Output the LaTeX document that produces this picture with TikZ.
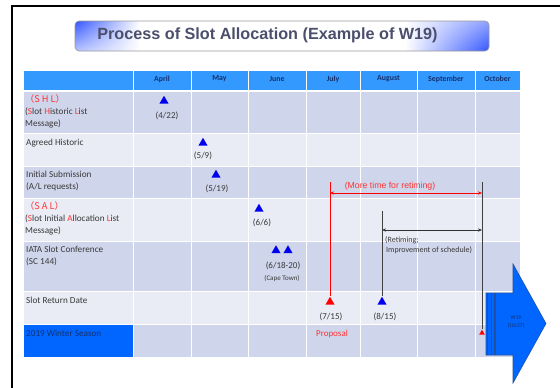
\documentclass[tikz,border=0pt]{standalone}
\usepackage{fontspec}
\setmainfont{Carlito}
\newfontfamily\arialf{Liberation Sans}
\newfontfamily\cjk{Noto Sans CJK JP}
\usetikzlibrary{shapes.geometric,arrows.meta,shadings}
\definecolor{hdr}{HTML}{3399FF}
\definecolor{rowd}{HTML}{CFD5EA}
\definecolor{rowl}{HTML}{E9EBF5}
\definecolor{wint}{HTML}{0066FF}
\definecolor{triblue}{HTML}{0000F0}
\definecolor{trired}{HTML}{FF0000}
\definecolor{sred}{HTML}{FF3333}
\definecolor{txt}{HTML}{3A3A3A}
\definecolor{navy}{HTML}{14306E}
\definecolor{titletxt}{HTML}{4B4F6B}
\definecolor{tblue}{HTML}{3355FF}
\definecolor{arrowedge}{HTML}{2050A0}
\tikzset{
  cell/.style={draw=white, line width=0.8pt},
  mon/.style={font=\fontsize{7.8}{9}\selectfont\bfseries, text=navy, inner sep=0pt},
  lbl/.style={font=\fontsize{9.2}{12}\selectfont, text=txt, anchor=base west, align=left, inner sep=0pt},
  date/.style={font=\fontsize{9}{11}\selectfont, text=txt, anchor=base, inner sep=0pt},
  btri/.style={regular polygon, regular polygon sides=3, fill=triblue, inner sep=0pt, minimum size=10.5pt},
  rtri/.style={btri, fill=trired},
  dtip/.style={{Stealth[length=4pt,width=3.2pt]}-{Stealth[length=4pt,width=3.2pt]}},
}
\begin{document}
\begin{tikzpicture}[x=1pt,y=-1pt]
\useasboundingbox (0,0) rectangle (560,388);
\fill[white] (0,0) rectangle (560,388);
% outer frame
\draw[line width=1.4pt] (12,388) -- (12,6) -- (560,6);
% title box
\begin{scope}
  \clip[rounded corners=4pt] (75,21) rectangle (489,51);
  \fill[white] (75,21) rectangle (489,51);
  \shade[upper left=tblue, lower left=tblue!35, upper right=white, lower right=white] (75,21) rectangle (140,51);
  \shade[upper left=white, lower left=white, upper right=tblue!55, lower right=tblue] (405,21) rectangle (489,51);
\end{scope}
\node[draw=gray!80, line width=0.6pt, rounded corners=4pt, minimum width=414pt, minimum height=30pt, inner sep=0pt] (tbox) at (282,36) {};
\node[font=\arialf\bfseries\fontsize{16.2}{18}\selectfont, text=titletxt, inner sep=0pt] (title) at (267.5,35.5)
      {Process of Slot Allocation (Example of W19)};
% header
\foreach \l/\r in {23/133,133/191,191/248,248/306,306/360,360/417,417/475,475/520}
  \filldraw[cell, fill=hdr] (\l,70) rectangle (\r,90.5);
% rows
\foreach \t/\b/\c in {91.5/133/rowd,133/166/rowl,166/198/rowd,198/241/rowl,241/291/rowd,291/324/rowl,324/357/rowd}
  \foreach \l/\r in {23/133,133/191,191/248,248/306,306/360,360/417,417/475,475/520}
    \filldraw[cell, fill=\c] (\l,\t) rectangle (\r,\b);
\filldraw[cell, fill=wint] (23,324) rectangle (133,357);
% month headers
\foreach \x/\m in {162/April,219.5/May,277/June,333/July,388.5/August,446/September,497.5/October}
  \node[mon] (m\m) at (\x,79) {\m};
% row labels (anchor = baseline of last line)
\node[lbl] (lshl) at (25,126) {{\cjk\color{sred}（S H L）}\\(\textcolor{sred}{S}lot \textcolor{sred}{H}istoric \textcolor{sred}{L}ist\\Message)};
\node[lbl] (lagr) at (26,145) {Agreed Historic};
\node[lbl] (linit) at (26,189.5) {Initial Submission\\(A/L requests)};
\node[lbl] (lsal) at (25,233) {{\cjk\color{sred}（S A L）}\\(\textcolor{sred}{S}lot Initial \textcolor{sred}{A}llocation \textcolor{sred}{L}ist\\Message)};
\node[lbl] (liata) at (26,264.5) {IATA Slot Conference\\(SC 144)};
\node[lbl] (lret) at (26,303) {Slot Return Date};
\node[lbl, text=navy] (lwin) at (26,336) {2019 Winter Season};
% triangles
\node[btri] (t422) at (164,101) {};
\node[btri] (t59) at (203,143) {};
\node[btri] (t519) at (216,175) {};
\node[btri] (t66) at (259,209) {};
\node[btri] (tsc1) at (276,250.5) {};
\node[btri] (tsc2) at (288,250.5) {};
\node[rtri] (t715) at (330,302) {};
\node[btri] (t815) at (382,302) {};
\node[rtri, minimum size=6.5pt] (tsm) at (482,333) {};
% date labels
\node[date] (d422) at (167,118) {(4/22)};
\node[date] (d59) at (203,158) {(5/9)};
\node[date] (d519) at (217,191) {(5/19)};
\node[date] (d66) at (262,225) {(6/6)};
\node[date] (dsc) at (283,268) {(6/18-20)};
\node[date, font=\fontsize{7}{8}\selectfont] (dct) at (282,280.5) {(Cape Town)};
\node[date] (d715) at (331,319) {(7/15)};
\node[date] (d815) at (385,319) {(8/15)};
\node[date, text=sred] (dprop) at (332,336) {Proposal};
% timing lines
\coordinate (rtop) at (330,182);
\coordinate (btop) at (482,182);
\coordinate (b2top) at (382,211);
\draw[red, line width=0.7pt] (rtop) -- (t715.north);
\draw[black!75, line width=0.9pt] (btop) -- (tsm.north);
\draw[black!75, line width=0.7pt] (b2top) -- (t815.north);
\coordinate (mtl) at (330,193);
\coordinate (mtr) at (482,193);
\draw[red, line width=0.7pt, dtip] (mtl) -- (mtr);
\node[font=\arialf\fontsize{8.7}{10}\selectfont, text=sred, inner sep=0pt] (more) at (390,186) {(More time for retiming)};
\coordinate (rtl) at (382,230);
\coordinate (rtr) at (482,230);
\draw[black!80, line width=0.7pt, dtip] (rtl) -- (rtr);
\node[font=\fontsize{8}{10}\selectfont, text=txt, anchor=base west, align=left, inner sep=0pt] (retim) at (385,252)
  {(Retiming;\\\hspace{1pt}Improvement of schedule)};
% big striped arrow
\filldraw[fill=wint, draw=arrowedge, line width=0.6pt]
  (486,293) -- (513,293) -- (513,264) -- (546,323.5) -- (513,383) -- (513,355) -- (486,355) -- cycle;
\foreach \x in {487.5,491.3,495}
  \draw[arrowedge, line width=1.6pt] (\x,293) -- (\x,355);
\node[font=\fontsize{5.6}{8}\selectfont, text=navy, align=center, inner sep=0pt] (w19) at (516,322.5) {W19\\(10/27)};
\end{tikzpicture}
\end{document}
